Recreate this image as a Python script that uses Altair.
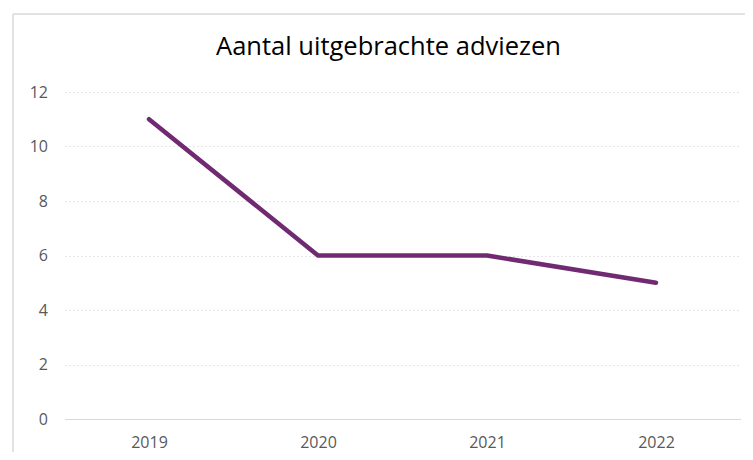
import altair as alt
import pandas as pd

years = ["2019", "2020", "2021", "2022"]
adviezen = [11, 6, 6, 5]

df = pd.DataFrame({"jaar": years, "aantal": adviezen})
one = pd.DataFrame({"k": [0]})

left_edge = alt.Chart(one).mark_rule(color="#D9D9D9", strokeWidth=1.5).encode(
    x=alt.value(-51.5), y=alt.value(-78), y2=alt.value(360)
)
top_edge = alt.Chart(one).mark_rule(color="#D9D9D9", strokeWidth=1.5).encode(
    x=alt.value(-51.5), x2=alt.value(700), y=alt.value(-78)
)

line = alt.Chart(df).mark_line(color="#702A72", strokeWidth=4.5, strokeCap="round", strokeJoin="round").encode(
    x=alt.X("jaar:N", sort=years, title=None,
            scale=alt.Scale(paddingOuter=0.5),
            axis=alt.Axis(labelAngle=0, ticks=False, domain=True, domainColor="#D9D9D9",
                          domainWidth=1.2, labelPadding=15, labelFontSize=16,
                          labelColor="#595959", labelFont="Open Sans", grid=False)),
    y=alt.Y("aantal:Q", title=None,
            scale=alt.Scale(domain=[0, 12], nice=False),
            axis=alt.Axis(values=[0, 2, 4, 6, 8, 10, 12], ticks=False, domain=False,
                          grid=True, gridColor="#E6E6E6", gridDash=[2, 2], gridWidth=1,
                          labelPadding=17, labelFontSize=16, labelColor="#595959",
                          labelFont="Open Sans")),
)

chart = alt.layer(left_edge, top_edge, line).properties(
    width=676, height=327,
    padding={"left": 56.5, "top": 84, "right": 4, "bottom": 37},
    autosize=alt.AutoSizeParams(type="none"),
    title=alt.TitleParams("Aantal uitgebrachte adviezen", fontSize=25.5, font="Open Sans",
                          fontWeight="normal", color="#000000", offset=-47, dx=-14,
                          anchor="middle"),
).configure_view(stroke=None)

chart.save("out.html", embed_options={"renderer": "svg", "actions": False})
